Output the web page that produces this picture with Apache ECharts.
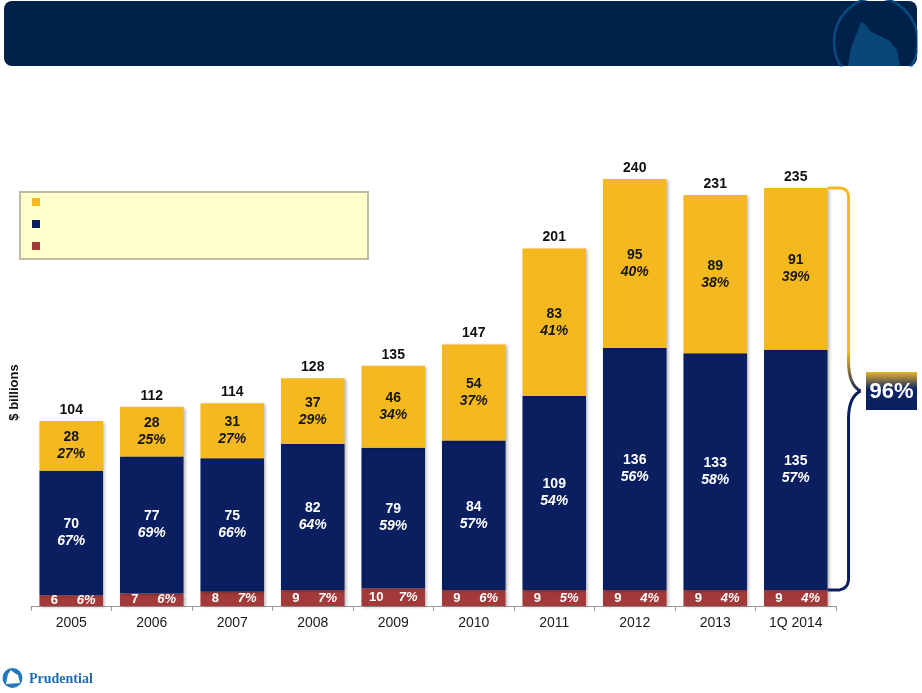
<!DOCTYPE html>
<html>
<head>
<meta charset="utf-8">
<script src="https://cdn.jsdelivr.net/npm/echarts@6/dist/echarts.min.js"></script>
<style>
html,body{margin:0;padding:0;background:#fff;}
#chart{width:922px;height:693px;}
</style>
</head>
<body>
<div id="chart"></div>
<script>
var categories = ['2005','2006','2007','2008','2009','2010','2011','2012','2013','1Q 2014'];
var yellowValues = [28,28,31,37,46,54,83,95,89,91];
var yellowPct = [27,25,27,29,34,37,41,40,38,39];
var navyValues = [70,77,75,82,79,84,109,136,133,135];
var navyPct = [67,69,66,64,59,57,54,56,58,57];
var redValues = [6,7,8,9,10,9,9,9,9,9];
var redPct = [6,6,7,7,7,6,5,4,4,4];
var totals = [104,112,114,128,135,147,201,240,231,235];
var bracketShare = '96%';
var yAxisTitle = '$ billions';

var YELLOW = '#F3B91F', NAVY = '#0A1F5F', RED = '#A23A3A';
var FONT = 'Liberation Sans, Arial, sans-serif';

function vGrad(stops){
  return {type:'linear', x:0, y:0, x2:0, y2:1, global:false,
    colorStops:stops.map(function(s){ return {offset:s[0], color:s[1]}; })};
}
// build a polyline from a list of segments: ['L',x,y] or ['Q',cx,cy,x,y]
function pathPoints(start, segs){
  var pts = [start.slice()], cur = start.slice();
  segs.forEach(function(s){
    if (s[0] === 'L') { cur = [s[1], s[2]]; pts.push(cur); }
    else {
      for (var i = 1; i <= 12; i++) {
        var t = i / 12, u = 1 - t;
        pts.push([u*u*cur[0] + 2*u*t*s[1] + t*t*s[3], u*u*cur[1] + 2*u*t*s[2] + t*t*s[4]]);
      }
      cur = [s[3], s[4]];
    }
  });
  return pts;
}

var chart = echarts.init(document.getElementById('chart'));

var shadow = {shadowColor:'rgba(0,0,0,0.28)', shadowBlur:3, shadowOffsetX:2, shadowOffsetY:1};

function twoLine(vals, pcts, color){
  return {
    show:true, position:'inside', fontFamily:FONT,
    formatter:function(p){ return '{v|' + vals[p.dataIndex] + '}\n{p|' + pcts[p.dataIndex] + '%}'; },
    rich:{
      v:{fontSize:14, fontWeight:'bold', color:color, lineHeight:17, fontFamily:FONT},
      p:{fontSize:14, fontWeight:'bold', fontStyle:'italic', color:color, lineHeight:17, fontFamily:FONT}
    }
  };
}

var option = {
  animation:false,
  backgroundColor:'#fff',
  grid:{left:28, right:86, top:179, bottom:87},
  legend:{
    data:['Yellow segment','Navy segment','Red segment'],
    orient:'vertical', left:32, top:198, padding:0,
    itemWidth:8, itemHeight:8, itemGap:14,
    icon:'rect', selectedMode:false,
    formatter:function(){ return ''; },
    textStyle:{fontSize:8, lineHeight:8}
  },
  xAxis:{
    type:'category', data:categories,
    axisLine:{show:true, lineStyle:{color:'#9a9a9a', width:1}},
    axisTick:{show:true, length:5, lineStyle:{color:'#9a9a9a'}},
    axisLabel:{fontSize:14, color:'#1a1a1a', margin:10, fontFamily:FONT}
  },
  yAxis:{
    type:'value', min:0, max:240,
    axisLine:{show:false}, axisTick:{show:false}, axisLabel:{show:false}, splitLine:{show:false},
    name:yAxisTitle, nameLocation:'middle', nameGap:10, nameRotate:90,
    nameTextStyle:{fontSize:13, fontWeight:'bold', color:'#111', fontFamily:FONT}
  },
  series:[
    {
      name:'Red segment', type:'bar', stack:'s', data:redValues, barWidth:'79%',
      itemStyle:Object.assign({color:RED}, shadow),
      label:{
        show:true, position:'inside', fontFamily:FONT,
        formatter:function(p){ return '{v|' + redValues[p.dataIndex] + '}{p|' + redPct[p.dataIndex] + '%}'; },
        rich:{
          v:{fontSize:13, fontWeight:'bold', color:'#fff', width:30, align:'center', fontFamily:FONT},
          p:{fontSize:13, fontWeight:'bold', fontStyle:'italic', color:'#fff', width:34, align:'center', fontFamily:FONT}
        }
      }
    },
    {
      name:'Navy segment', type:'bar', stack:'s', data:navyValues, barWidth:'79%',
      itemStyle:Object.assign({color:NAVY}, shadow),
      label:twoLine(navyValues, navyPct, '#fff')
    },
    {
      name:'Yellow segment', type:'bar', stack:'s', data:yellowValues, barWidth:'79%',
      itemStyle:Object.assign({color:YELLOW}, shadow),
      label:twoLine(yellowValues, yellowPct, '#151515')
    },
    {
      name:'Total', type:'bar', stack:'s', barWidth:'79%', silent:true,
      data:totals.map(function(){ return 0; }),
      itemStyle:{color:'transparent'},
      label:{
        show:true, position:'top', distance:4,
        formatter:function(p){ return totals[p.dataIndex]; },
        fontSize:14, fontWeight:'bold', color:'#111', fontFamily:FONT
      }
    }
  ]
};
chart.setOption(option);

// decorations
var last = categories.length - 1;
var cx = chart.convertToPixel({xAxisIndex:0}, last);
var catW = chart.convertToPixel({xAxisIndex:0}, 1) - chart.convertToPixel({xAxisIndex:0}, 0);
var right = cx + catW * 0.79 / 2;
var yTop = chart.convertToPixel({yAxisIndex:0}, totals[last]);
var yBot = chart.convertToPixel({yAxisIndex:0}, redValues[last]);
var bx = right + 21, px = right + 33, py = 391;

var upper = pathPoints([right, yTop], [['L', bx-10, yTop], ['Q', bx, yTop, bx, yTop+10], ['L', bx, py-30], ['Q', bx, py-6, px, py]]);
var lower = pathPoints([px, py], [['Q', bx, py+6, bx, py+28], ['L', bx, yBot-12], ['Q', bx, yBot, bx-12, yBot], ['L', right, yBot]]);

chart.setOption({
  graphic:[
    // header
    {type:'rect', shape:{x:4, y:1, width:913, height:65, r:8}, style:{fill:'#00224A'}, z:1},
    {type:'ellipse', shape:{cx:876, cy:42, rx:42, ry:44}, style:{fill:'none', stroke:'#0B4A7E', lineWidth:2.5}, z:2},
    {type:'polygon', shape:{points:[[848,66],[851,48],[856,35],[861,22],[865,24],[870,31],[880,36],[890,41],[897,50],[900,66]]}, style:{fill:'#0A4677'}, z:2},
    {type:'rect', shape:{x:820, y:66.5, width:102, height:30}, style:{fill:'#fff'}, z:3},
    {type:'rect', shape:{x:917.5, y:0, width:6, height:90}, style:{fill:'#fff'}, z:3},
    // legend box
    {type:'rect', shape:{x:20, y:192, width:348, height:67}, style:{fill:'#FFFFCC', stroke:'#BFBBA6', lineWidth:2}, z:-10},
    // bracket
    {type:'polyline', shape:{points:upper}, style:{fill:'none', lineWidth:3, lineJoin:'round', stroke:vGrad([[0,YELLOW],[0.8,YELLOW],[1,NAVY]])}, z:5},
    {type:'polyline', shape:{points:lower}, style:{fill:'none', lineWidth:3, lineJoin:'round', stroke:NAVY}, z:5},
    // badge
    {type:'rect', shape:{x:866, y:372, width:51, height:38},
      style:{fill:vGrad([[0,'#E8B52C'],[0.45,'#0C2466'],[1,'#0A1F5F']])}, z:5},
    {type:'text', x:891.5, y:392, style:{text:bracketShare, fill:'#fff', font:'bold 22px '+FONT, align:'center', verticalAlign:'middle'}, z:6},
    // Prudential logo
    {type:'circle', shape:{cx:12.5, cy:678, r:10}, style:{fill:'#2378BC'}, z:5},
    {type:'polygon', shape:{points:[[6,684],[8,674],[11,670],[13,672],[18,675],[20,683]]}, style:{fill:'#fff'}, z:6},
    {type:'text', x:29, y:679, style:{text:'Prudential', fill:'#1E6CB2', font:'bold 14px Liberation Serif, serif', verticalAlign:'middle'}, z:5}
  ]
});
</script>
</body>
</html>
